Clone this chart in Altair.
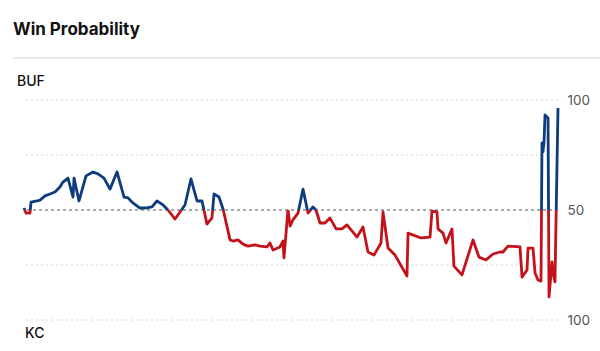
import altair as alt
import pandas as pd

# Game progress (minutes elapsed) and BUF win probability (%)
minutes = [0.0, 0.22, 0.67, 0.79, 1.46, 1.80, 2.36, 2.92, 3.48, 4.04, 4.38, 4.94, 5.51, 5.62,
           6.18, 6.97, 7.75, 8.31, 8.99, 9.66, 10.45, 11.24, 11.69, 12.13, 13.03, 13.60, 14.38,
           14.94, 15.62, 16.18, 16.97, 18.09, 18.76, 19.44, 20.00, 20.56, 21.12, 21.35, 21.91,
           22.36, 23.15, 23.48, 24.04, 24.61, 25.17, 25.96, 26.52, 27.30, 27.64, 27.98, 28.76,
           29.10, 29.21, 29.66, 29.89, 30.22, 30.79, 31.35, 31.91, 32.47, 32.81, 33.26, 33.82,
           34.38, 35.06, 35.73, 36.29, 37.42, 38.09, 38.65, 39.33, 40.11, 40.34, 40.90, 41.69,
           43.03, 43.15, 44.61, 45.62, 45.84, 46.40, 46.52, 47.08, 47.42, 48.09, 48.31, 49.21,
           50.45, 51.12, 51.91, 52.70, 53.48, 53.82, 54.38, 55.73, 55.96, 56.52, 56.63, 57.19,
           57.42, 57.75, 58.09, 58.20, 58.31, 58.43, 58.54, 58.88, 58.99, 59.33, 59.44, 59.66,
           60.0]
buf_prob = [50.9, 48.6, 48.6, 53.6, 54.1, 54.5, 56.4, 57.3, 58.2, 60.5, 62.7, 64.5, 55.9, 64.5,
            54.1, 65.5, 67.3, 66.4, 64.5, 59.5, 67.3, 55.9, 55.5, 53.6, 50.9, 50.9, 51.4,
            54.1, 52.3, 50.0, 45.9, 52.3, 64.1, 54.1, 54.1, 43.6, 46.4, 57.3, 55.9,
            50.5, 36.4, 35.9, 36.4, 34.5, 33.6, 34.1, 33.6, 33.2, 35.0, 31.8, 33.2,
            35.9, 28.2, 50.0, 42.7, 45.5, 48.6, 59.5, 48.6, 51.4, 50.0, 44.1, 44.1,
            46.4, 41.4, 41.4, 43.2, 37.7, 42.3, 30.9, 29.5, 35.0, 49.1, 32.7, 29.5,
            20.0, 39.5, 37.3, 37.7, 49.5, 49.1, 41.4, 39.5, 35.0, 41.4, 24.5, 20.5,
            36.4, 28.6, 27.3, 30.0, 30.9, 30.9, 33.6, 33.2, 19.5, 22.7, 32.7, 32.7,
            21.4, 18.2, 17.7, 80.5, 76.4, 80.9, 93.2, 91.8, 10.5, 26.4, 21.4, 17.3,
            96.4]

grid_levels = [0, 25, 75, 100]
mid_level = [50]
axis_values = [0, 50, 100]
teams = ["BUF", "KC"]
team_colors = ["#0c3b7e", "#c4121a"]

# split the line into team-colored segments at the 50% line
def side(v):
    return "BUF" if v >= 50 else "KC"

rows = []
seg = 0
prev = None
for t, p in zip(minutes, buf_prob):
    if prev is not None:
        pt, pp = prev
        if side(pp) != side(p):
            ct = pt + (50 - pp) * (t - pt) / (p - pp)
            rows.append({"t": ct, "p": 50.0, "seg": seg, "side": side(pp)})
            seg += 1
            rows.append({"t": ct, "p": 50.0, "seg": seg, "side": side(p)})
    rows.append({"t": t, "p": p, "seg": seg, "side": side(p)})
    prev = (t, p)
df = pd.DataFrame(rows)
df["i"] = range(len(df))

FONT = "Inter"
x_scale = alt.Scale(domain=[0, 60], nice=False, zero=False)
y_scale = alt.Scale(domain=[0, 100], nice=False)
y_axis = alt.Axis(orient="right", values=axis_values, grid=False, ticks=False,
                  domain=False, labelPadding=9, labelFontSize=13.5,
                  labelColor="#555555", labelFont=FONT,
                  labelExpr="datum.value == 0 ? '100' : datum.label", title=None)

grid = alt.Chart(pd.DataFrame({"v": grid_levels})).mark_rule(
    color="#d6d6d6", strokeWidth=1, strokeDash=[2, 3]
).encode(y=alt.Y("v:Q", scale=y_scale, axis=y_axis))

mid = alt.Chart(pd.DataFrame({"v": mid_level})).mark_rule(
    color="#555555", strokeWidth=1, strokeDash=[3, 3]
).encode(y=alt.Y("v:Q", scale=y_scale, axis=y_axis))

line = alt.Chart(df).mark_line(strokeWidth=2.8, strokeJoin="round").encode(
    x=alt.X("t:Q", scale=x_scale, axis=None),
    y=alt.Y("p:Q", scale=y_scale, axis=y_axis),
    color=alt.Color("side:N", scale=alt.Scale(domain=teams, range=team_colors), legend=None),
    detail="seg:N",
    order="i:Q",
)

lab = pd.DataFrame({"a": [0]})
title = alt.Chart(lab).mark_text(
    text="Win Probability", font=FONT, fontSize=17, fontWeight="bold", color="#111111",
    align="left", baseline="alphabetic"
).encode(x=alt.value(-11), y=alt.value(-65))

sep = alt.Chart(lab).mark_rule(color="#d0d0d0", strokeWidth=1).encode(
    x=alt.value(-11), x2=alt.value(576), y=alt.value(-42)
)

buf_lab = alt.Chart(lab).mark_text(
    text="BUF", font=FONT, fontSize=14, fontWeight=500, color="#111111",
    align="left", baseline="alphabetic"
).encode(x=alt.value(-7), y=alt.value(-14))

kc_lab = alt.Chart(lab).mark_text(
    text="KC", font=FONT, fontSize=14, fontWeight=500, color="#111111",
    align="left", baseline="alphabetic"
).encode(x=alt.value(1), y=alt.value(238))

chart = alt.layer(grid, mid, line, title, sep, buf_lab, kc_lab).resolve_scale(
    y="shared"
).properties(
    width=534, height=220,
    autosize=alt.AutoSizeParams(type="none"),
    padding={"left": 24, "top": 100, "right": 42, "bottom": 31},
    background="white",
).configure_view(stroke=None)

chart.save("out.html", embed_options={"renderer": "svg", "actions": False})
